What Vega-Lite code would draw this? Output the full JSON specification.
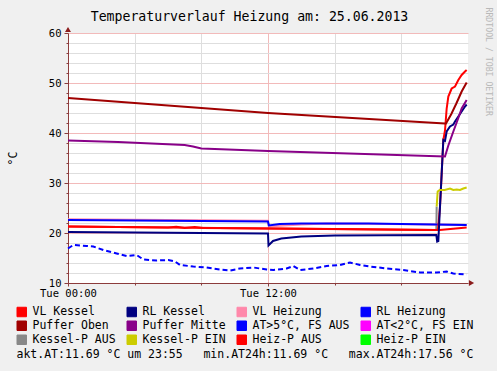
{
  "$schema": "https://vega.github.io/schema/vega-lite/v6.json",
  "width": 400,
  "height": 250,
  "autosize": {"type": "none"},
  "padding": {"left": 68, "top": 33, "right": 29, "bottom": 88},
  "background": "#F0F0F0",
  "title": {
    "text": "Temperaturverlauf Heizung am: 25.06.2013",
    "font": "DejaVu Sans Mono",
    "fontSize": 13.2,
    "fontWeight": "normal",
    "color": "#000000",
    "anchor": "middle",
    "frame": "group",
    "dx": -18.5,
    "dy": 21,
    "offset": 4
  },
  "config": {
    "view": {"stroke": null, "fill": "#FFFFFF"},
    "axis": {
      "labelFont": "DejaVu Sans Mono",
      "titleFont": "DejaVu Sans Mono",
      "labelColor": "#000000",
      "titleColor": "#000000",
      "titleFontWeight": "normal"
    },
    "legend": {
      "labelFont": "DejaVu Sans Mono",
      "labelFontSize": 11.5,
      "labelColor": "#000000",
      "symbolType": "square",
      "symbolSize": 90,
      "symbolStrokeWidth": 1,
      "labelOffset": 5,
      "padding": 0
    }
  },
  "resolve": {"axis": {"y": "independent"}},
  "layer": [
    {
      "data": {"values": [
        {"s": "AT>5°C, FS AUS", "t": 0, "v": 16.9},
        {"s": "AT>5°C, FS AUS", "t": 0.32, "v": 17.6},
        {"s": "AT>5°C, FS AUS", "t": 1.12, "v": 17.4},
        {"s": "AT>5°C, FS AUS", "t": 1.52, "v": 17.3},
        {"s": "AT>5°C, FS AUS", "t": 2.12, "v": 16.6},
        {"s": "AT>5°C, FS AUS", "t": 2.92, "v": 15.9},
        {"s": "AT>5°C, FS AUS", "t": 3.52, "v": 15.4},
        {"s": "AT>5°C, FS AUS", "t": 4.12, "v": 15.6},
        {"s": "AT>5°C, FS AUS", "t": 4.52, "v": 14.7},
        {"s": "AT>5°C, FS AUS", "t": 5.32, "v": 14.5},
        {"s": "AT>5°C, FS AUS", "t": 6.02, "v": 14.6},
        {"s": "AT>5°C, FS AUS", "t": 6.42, "v": 14.3},
        {"s": "AT>5°C, FS AUS", "t": 6.72, "v": 13.6},
        {"s": "AT>5°C, FS AUS", "t": 7.52, "v": 13.3},
        {"s": "AT>5°C, FS AUS", "t": 8.32, "v": 13.1},
        {"s": "AT>5°C, FS AUS", "t": 9.12, "v": 12.7},
        {"s": "AT>5°C, FS AUS", "t": 9.72, "v": 12.5},
        {"s": "AT>5°C, FS AUS", "t": 10.32, "v": 12.9},
        {"s": "AT>5°C, FS AUS", "t": 11.12, "v": 13.1},
        {"s": "AT>5°C, FS AUS", "t": 11.92, "v": 12.7},
        {"s": "AT>5°C, FS AUS", "t": 12.32, "v": 12.6},
        {"s": "AT>5°C, FS AUS", "t": 13.12, "v": 12.9},
        {"s": "AT>5°C, FS AUS", "t": 13.52, "v": 13.4},
        {"s": "AT>5°C, FS AUS", "t": 13.92, "v": 12.6},
        {"s": "AT>5°C, FS AUS", "t": 14.72, "v": 12.9},
        {"s": "AT>5°C, FS AUS", "t": 15.52, "v": 13.4},
        {"s": "AT>5°C, FS AUS", "t": 16.32, "v": 13.6},
        {"s": "AT>5°C, FS AUS", "t": 16.92, "v": 14.1},
        {"s": "AT>5°C, FS AUS", "t": 17.52, "v": 13.6},
        {"s": "AT>5°C, FS AUS", "t": 18.12, "v": 13.3},
        {"s": "AT>5°C, FS AUS", "t": 19.12, "v": 12.9},
        {"s": "AT>5°C, FS AUS", "t": 20.12, "v": 12.6},
        {"s": "AT>5°C, FS AUS", "t": 21.12, "v": 12.1},
        {"s": "AT>5°C, FS AUS", "t": 22.12, "v": 12.1},
        {"s": "AT>5°C, FS AUS", "t": 22.72, "v": 12.3},
        {"s": "AT>5°C, FS AUS", "t": 23.12, "v": 11.9},
        {"s": "AT>5°C, FS AUS", "t": 23.92, "v": 11.7}
      ]},
      "mark": {"type": "line", "strokeWidth": 2, "strokeDash": [5, 3]},
      "encoding": {
        "x": {
          "field": "t", "type": "quantitative",
          "scale": {"domain": [0, 24], "nice": false, "zero": false},
          "axis": {
            "values": [0,1,2,3,4,5,6,7,8,9,10,11,12,13,14,15,16,17,18,19,20,21,22,23],
            "labelExpr": "datum.value == 0 ? 'Tue 00:00' : (datum.value == 12 ? 'Tue 12:00' : '')",
            "labelOverlap": false,
            "labelFlush": false,
            "labelFontSize": 10.5,
            "labelPadding": 2,
            "grid": true,
            "gridColor": {"condition": {"test": "datum.value % 6 === 0", "value": "#F2BABA"}, "value": "#DEDEDE"},
            "gridWidth": 1,
            "domainColor": "#8C3C3C",
            "tickColor": "#8C3C3C",
            "tickSize": {"condition": {"test": "datum.value % 12 === 0", "value": 3}, "value": 2},
            "title": "akt.AT:11.69 °C um 23:55\u00a0\u00a0\u00a0min.AT24h:11.69 °C\u00a0\u00a0\u00a0max.AT24h:17.56 °C",
            "titleFontSize": 11.5,
            "titleAlign": "left",
            "titleAnchor": "start",
            "titleBaseline": "alphabetic",
            "titleX": -52,
            "titleY": 74
          }
        },
        "y": {
          "field": "v", "type": "quantitative",
          "scale": {"domain": [10, 60], "nice": false, "zero": false},
          "axis": {
            "values": [10,12,14,16,18,20,22,24,26,28,30,32,34,36,38,40,42,44,46,48,50,52,54,56,58,60],
            "labelExpr": "datum.value % 10 === 0 ? datum.label : ''",
            "labelOverlap": false,
            "labelFlush": false,
            "labelFontSize": 10.5,
            "labelPadding": 3,
            "grid": true,
            "gridColor": {"condition": {"test": "datum.value % 10 === 0", "value": "#F2BABA"}, "value": "#DEDEDE"},
            "gridWidth": 1,
            "domainColor": "#8C3C3C",
            "tickColor": "#8C3C3C",
            "tickSize": {"condition": {"test": "datum.value % 10 === 0", "value": 4}, "value": 2},
            "title": "°C",
            "titleFontSize": 11.5,
            "titleX": -55,
            "titleBaseline": "middle",
            "titleAlign": "center"
          }
        },
        "color": {
          "field": "s", "type": "nominal",
          "scale": {
            "domain": ["VL Kessel", "RL Kessel", "VL Heizung", "RL Heizung", "Puffer Oben", "Puffer Mitte", "AT>5°C, FS AUS", "AT<2°C, FS EIN", "Kessel-P AUS", "Kessel-P EIN", "Heiz-P AUS", "Heiz-P EIN"],
            "range": ["#FF0000", "#000080", "#FF88AA", "#0000FF", "#A00000", "#880088", "#0000FF", "#FF00FF", "#888888", "#CCCC00", "#FF0000", "#00FF00"]
          },
          "legend": {
            "title": null,
            "orient": "none",
            "legendX": -52,
            "legendY": 273,
            "direction": "horizontal",
            "columns": 4,
            "gridAlign": "each",
            "columnPadding": 9,
            "rowPadding": 0,
            "labelLimit": 200,
            "encode": {
              "symbols": {
                "update": {
                  "fill": {"scale": "color", "field": "value"},
                  "stroke": {"value": "#000000"},
                  "strokeWidth": {"value": 1},
                  "strokeDash": {"value": []},
                  "opacity": {"value": 1},
                  "fillOpacity": {"value": 1},
                  "shape": {"value": "square"}
                }
              }
            }
          }
        }
      }
    },
    {
      "data": {"values": [
        {"s": "Kessel-P AUS", "t": 21.9, "v": 20.6},
        {"s": "Kessel-P AUS", "t": 22.1, "v": 20.6},
        {"s": "Kessel-P AUS", "t": 22.12, "v": 25.3},
        {"s": "VL Heizung", "t": 0, "v": 22.75},
        {"s": "VL Heizung", "t": 6, "v": 22.6},
        {"s": "VL Heizung", "t": 12, "v": 22.45},
        {"s": "VL Heizung", "t": 12.05, "v": 21.3},
        {"s": "VL Heizung", "t": 13, "v": 21.5},
        {"s": "VL Heizung", "t": 14, "v": 21.7},
        {"s": "VL Heizung", "t": 15.5, "v": 21.9},
        {"s": "VL Heizung", "t": 18, "v": 21.85},
        {"s": "VL Heizung", "t": 22, "v": 21.7},
        {"s": "VL Heizung", "t": 23.92, "v": 21.6},
        {"s": "RL Heizung", "t": 0, "v": 22.6},
        {"s": "RL Heizung", "t": 6, "v": 22.45},
        {"s": "RL Heizung", "t": 12, "v": 22.3},
        {"s": "RL Heizung", "t": 12.05, "v": 21.5},
        {"s": "RL Heizung", "t": 12.7, "v": 21.8},
        {"s": "RL Heizung", "t": 14, "v": 21.9},
        {"s": "RL Heizung", "t": 18, "v": 21.9},
        {"s": "RL Heizung", "t": 22, "v": 21.7},
        {"s": "RL Heizung", "t": 23.92, "v": 21.6},
        {"s": "Heiz-P AUS", "t": 0, "v": 21.3},
        {"s": "Heiz-P AUS", "t": 6, "v": 21.1},
        {"s": "Heiz-P AUS", "t": 6.5, "v": 21.25},
        {"s": "Heiz-P AUS", "t": 7, "v": 21.0},
        {"s": "Heiz-P AUS", "t": 7.6, "v": 21.2},
        {"s": "Heiz-P AUS", "t": 8.1, "v": 21.0},
        {"s": "Heiz-P AUS", "t": 12, "v": 20.9},
        {"s": "Heiz-P AUS", "t": 16, "v": 20.8},
        {"s": "Heiz-P AUS", "t": 22, "v": 20.6},
        {"s": "Heiz-P AUS", "t": 22.3, "v": 20.6},
        {"s": "Heiz-P AUS", "t": 23.92, "v": 21.1},
        {"s": "VL Kessel", "t": 0, "v": 21.3},
        {"s": "VL Kessel", "t": 12, "v": 20.9},
        {"s": "VL Kessel", "t": 22.2, "v": 20.6},
        {"s": "VL Kessel", "t": 22.32, "v": 25.3},
        {"s": "VL Kessel", "t": 22.42, "v": 31.9},
        {"s": "VL Kessel", "t": 22.52, "v": 38.6},
        {"s": "VL Kessel", "t": 22.62, "v": 40.5},
        {"s": "VL Kessel", "t": 22.72, "v": 44.9},
        {"s": "VL Kessel", "t": 22.82, "v": 47.3},
        {"s": "VL Kessel", "t": 23.02, "v": 48.9},
        {"s": "VL Kessel", "t": 23.22, "v": 49.3},
        {"s": "VL Kessel", "t": 23.42, "v": 50.6},
        {"s": "VL Kessel", "t": 23.62, "v": 51.6},
        {"s": "VL Kessel", "t": 23.82, "v": 52.3},
        {"s": "VL Kessel", "t": 23.92, "v": 52.6},
        {"s": "RL Kessel", "t": 0, "v": 20.2},
        {"s": "RL Kessel", "t": 6, "v": 20.05},
        {"s": "RL Kessel", "t": 12, "v": 19.9},
        {"s": "RL Kessel", "t": 12.03, "v": 17.5},
        {"s": "RL Kessel", "t": 12.3, "v": 18.4},
        {"s": "RL Kessel", "t": 12.8, "v": 18.9},
        {"s": "RL Kessel", "t": 14, "v": 19.3},
        {"s": "RL Kessel", "t": 16, "v": 19.5},
        {"s": "RL Kessel", "t": 22.1, "v": 19.6},
        {"s": "RL Kessel", "t": 22.15, "v": 18.3},
        {"s": "RL Kessel", "t": 22.22, "v": 18.4},
        {"s": "RL Kessel", "t": 22.32, "v": 25.3},
        {"s": "RL Kessel", "t": 22.42, "v": 31.9},
        {"s": "RL Kessel", "t": 22.52, "v": 38.6},
        {"s": "RL Kessel", "t": 22.62, "v": 38.4},
        {"s": "RL Kessel", "t": 22.72, "v": 40.3},
        {"s": "RL Kessel", "t": 22.92, "v": 41.3},
        {"s": "RL Kessel", "t": 23.12, "v": 41.7},
        {"s": "RL Kessel", "t": 23.22, "v": 42.3},
        {"s": "RL Kessel", "t": 23.42, "v": 43.3},
        {"s": "RL Kessel", "t": 23.62, "v": 44.3},
        {"s": "RL Kessel", "t": 23.82, "v": 45.3},
        {"s": "RL Kessel", "t": 23.92, "v": 45.7},
        {"s": "Puffer Oben", "t": 0, "v": 47.0},
        {"s": "Puffer Oben", "t": 12, "v": 44.0},
        {"s": "Puffer Oben", "t": 22.62, "v": 41.9},
        {"s": "Puffer Oben", "t": 22.68, "v": 41.9},
        {"s": "Puffer Oben", "t": 23.0, "v": 43.8},
        {"s": "Puffer Oben", "t": 23.3, "v": 45.9},
        {"s": "Puffer Oben", "t": 23.62, "v": 48.3},
        {"s": "Puffer Oben", "t": 23.92, "v": 50.1},
        {"s": "Puffer Mitte", "t": 0, "v": 38.5},
        {"s": "Puffer Mitte", "t": 3, "v": 38.2},
        {"s": "Puffer Mitte", "t": 7.0, "v": 37.6},
        {"s": "Puffer Mitte", "t": 7.5, "v": 37.3},
        {"s": "Puffer Mitte", "t": 8.0, "v": 36.9},
        {"s": "Puffer Mitte", "t": 12, "v": 36.4},
        {"s": "Puffer Mitte", "t": 22.62, "v": 35.3},
        {"s": "Puffer Mitte", "t": 22.82, "v": 37.5},
        {"s": "Puffer Mitte", "t": 23.12, "v": 40.3},
        {"s": "Puffer Mitte", "t": 23.42, "v": 43.0},
        {"s": "Puffer Mitte", "t": 23.62, "v": 44.9},
        {"s": "Puffer Mitte", "t": 23.92, "v": 46.6},
        {"s": "Kessel-P EIN", "t": 22.12, "v": 25.3},
        {"s": "Kessel-P EIN", "t": 22.18, "v": 28.3},
        {"s": "Kessel-P EIN", "t": 22.3, "v": 28.6},
        {"s": "Kessel-P EIN", "t": 22.6, "v": 28.6},
        {"s": "Kessel-P EIN", "t": 22.92, "v": 28.9},
        {"s": "Kessel-P EIN", "t": 23.12, "v": 28.6},
        {"s": "Kessel-P EIN", "t": 23.32, "v": 28.7},
        {"s": "Kessel-P EIN", "t": 23.52, "v": 28.6},
        {"s": "Kessel-P EIN", "t": 23.72, "v": 28.9},
        {"s": "Kessel-P EIN", "t": 23.92, "v": 29.1}
      ]},
      "mark": {"type": "line", "strokeWidth": 2},
      "encoding": {
        "x": {"field": "t", "type": "quantitative"},
        "y": {"field": "v", "type": "quantitative", "axis": null},
        "color": {"field": "s", "type": "nominal"}
      }
    },
    {
      "data": {"values": [{"t": 0, "v": 60}]},
      "mark": {"type": "point", "shape": "triangle-up", "filled": true, "color": "#8B1C1C", "opacity": 1, "size": 36, "yOffset": -3.5},
      "encoding": {
        "x": {"field": "t", "type": "quantitative"},
        "y": {
          "field": "v", "type": "quantitative",
          "axis": {
            "orient": "right",
            "labels": false,
            "ticks": false,
            "domain": false,
            "grid": false,
            "domainColor": "transparent",
            "gridColor": "transparent",
            "tickColor": "transparent",
            "title": "RRDTOOL / TOBI OETIKER",
            "titleFont": "DejaVu Sans Mono",
            "titleFontSize": 8.2,
            "titleColor": "#B8B8B8",
            "titleAngle": 90,
            "titleAlign": "left",
            "titleBaseline": "middle",
            "titleX": 19,
            "titleY": -26
          }
        }
      }
    },
    {
      "data": {"values": [{"t": 24, "v": 10}]},
      "mark": {"type": "point", "shape": "triangle-right", "filled": true, "color": "#8B1C1C", "opacity": 1, "size": 36, "xOffset": 3.5},
      "encoding": {
        "x": {"field": "t", "type": "quantitative"},
        "y": {"field": "v", "type": "quantitative", "axis": null}
      }
    }
  ]
}
